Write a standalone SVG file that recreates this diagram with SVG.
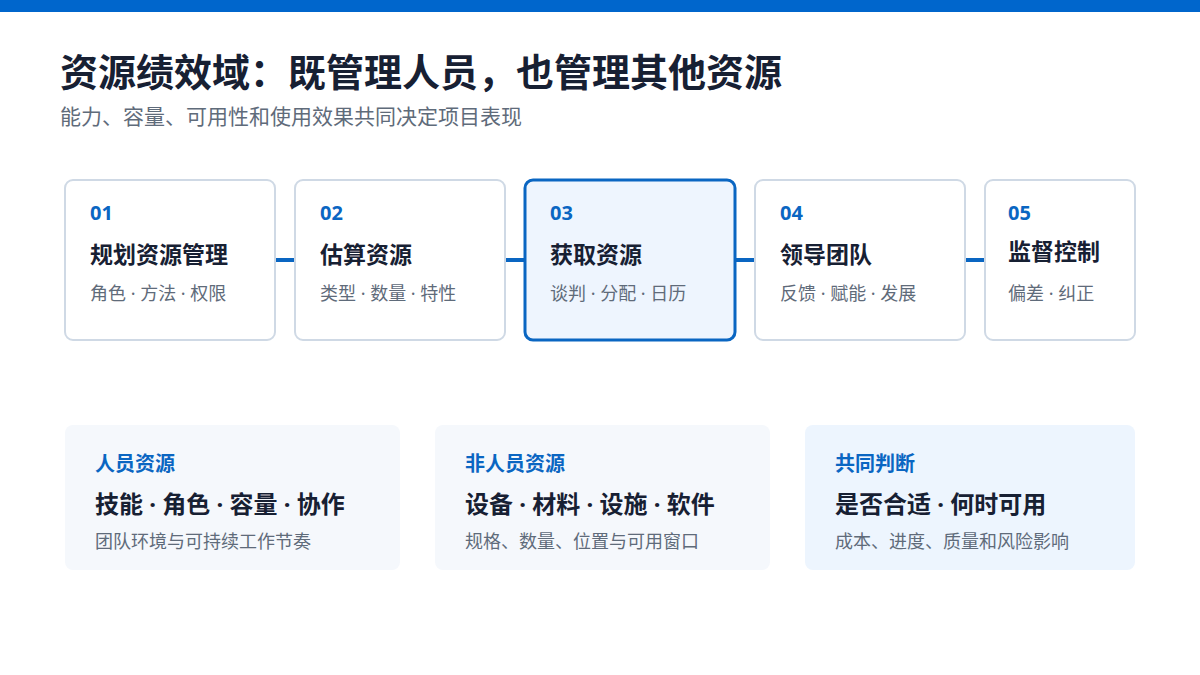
<svg xmlns="http://www.w3.org/2000/svg" width="1200" height="675" viewBox="0 0 1200 675">
<style>
text{font-family:"Noto Sans","Noto Sans CJK SC",sans-serif}
.card{fill:#FFFFFF;stroke:#CFD9E5;stroke-width:2}
.hcard{fill:#EEF5FE;stroke:#0A66C2;stroke-width:3}
.num{font-size:20px;font-weight:700;fill:#0A66C2}
.ttl{font-size:23px;font-weight:700;fill:#172033}
.sub{font-size:18px;fill:#5F6B7A}
.pane{fill:#F5F8FC}
.pane2{fill:#EDF5FE}
.lbl{font-size:20px;font-weight:700;fill:#0A66C2}
.main{font-size:24px;font-weight:700;fill:#172033}
.conn{stroke:#0A66C2;stroke-width:4}
</style>
<rect x="0" y="0" width="1200" height="12" fill="#0066CC"/>
<text x="60" y="86" font-size="38" font-weight="700" fill="#172033">资源绩效域：既管理人员，也管理其他资源</text>
<text x="60" y="124" font-size="21" fill="#5F6B7A">能力、容量、可用性和使用效果共同决定项目表现</text>
<g id="connectors">
<line class="conn" x1="275" y1="260" x2="295" y2="260"/>
<line class="conn" x1="505" y1="260" x2="525" y2="260"/>
<line class="conn" x1="735" y1="260" x2="755" y2="260"/>
<line class="conn" x1="965" y1="260" x2="985" y2="260"/>
</g>
<g id="step1">
<rect class="card" x="65" y="180" width="210" height="160" rx="8"/>
<text class="num" x="90" y="220">01</text>
<text class="ttl" x="90" y="263">规划资源管理</text>
<text class="sub" x="90" y="300">角色 · 方法 · 权限</text>
</g>
<g id="step2">
<rect class="card" x="295" y="180" width="210" height="160" rx="8"/>
<text class="num" x="320" y="220">02</text>
<text class="ttl" x="320" y="263">估算资源</text>
<text class="sub" x="320" y="300">类型 · 数量 · 特性</text>
</g>
<g id="step3">
<rect class="hcard" x="525" y="180" width="210" height="160" rx="8"/>
<text class="num" x="550" y="220">03</text>
<text class="ttl" x="550" y="263">获取资源</text>
<text class="sub" x="550" y="300">谈判 · 分配 · 日历</text>
</g>
<g id="step4">
<rect class="card" x="755" y="180" width="210" height="160" rx="8"/>
<text class="num" x="780" y="220">04</text>
<text class="ttl" x="780" y="263">领导团队</text>
<text class="sub" x="780" y="300">反馈 · 赋能 · 发展</text>
</g>
<g id="step5">
<rect class="card" x="985" y="180" width="150" height="160" rx="8"/>
<text class="num" x="1008" y="220">05</text>
<text class="ttl" x="1008" y="260">监督控制</text>
<text class="sub" x="1008" y="300">偏差 · 纠正</text>
</g>
<g id="people">
<rect class="pane" x="65" y="425" width="335" height="145" rx="8"/>
<text class="lbl" x="95" y="471">人员资源</text>
<text class="main" x="95" y="513">技能 · 角色 · 容量 · 协作</text>
<text class="sub" x="95" y="548">团队环境与可持续工作节奏</text>
</g>
<g id="nonpeople">
<rect class="pane" x="435" y="425" width="335" height="145" rx="8"/>
<text class="lbl" x="465" y="471">非人员资源</text>
<text class="main" x="465" y="513">设备 · 材料 · 设施 · 软件</text>
<text class="sub" x="465" y="548">规格、数量、位置与可用窗口</text>
</g>
<g id="judgement">
<rect class="pane2" x="805" y="425" width="330" height="145" rx="8"/>
<text class="lbl" x="835" y="471">共同判断</text>
<text class="main" x="835" y="513">是否合适 · 何时可用</text>
<text class="sub" x="835" y="548">成本、进度、质量和风险影响</text>
</g>
</svg>
